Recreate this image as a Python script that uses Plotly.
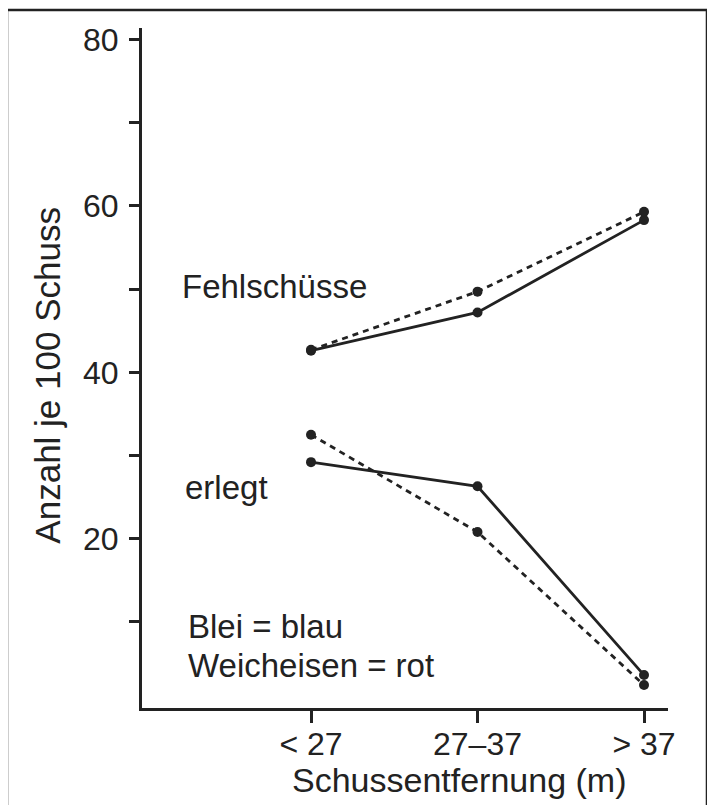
import plotly.graph_objects as go

categories = ["< 27", "27–37", "> 37"]
fehl_solid = [42.6, 47.2, 58.3]
fehl_dashed = [42.7, 49.7, 59.3]
erlegt_solid = [29.2, 26.3, 3.6]
erlegt_dashed = [32.5, 20.8, 2.4]
y_tickvals = [10, 20, 30, 40, 50, 60, 70, 80]
y_ticktext = ["", "20", "", "40", "", "60", "", "80"]

INK = "#222222"
FONT = "Liberation Sans, Arial, Helvetica, sans-serif"
xpos = list(range(len(categories)))

fig = go.Figure()

def add_line(vals, dash):
    fig.add_trace(go.Scatter(
        x=xpos, y=vals, mode="lines+markers",
        line=dict(color=INK, width=2.8, dash=dash),
        marker=dict(color=INK, size=10),
        showlegend=False, hoverinfo="skip"))

add_line(fehl_solid, "solid")
add_line(fehl_dashed, "6px,5px")
add_line(erlegt_solid, "solid")
add_line(erlegt_dashed, "6px,5px")

tfont = dict(family=FONT, size=32, color=INK)
afont = dict(family=FONT, size=33, color=INK)
xtfont = dict(family=FONT, size=34, color=INK)
ytfont = dict(family=FONT, size=35, color=INK)

fig.update_layout(
    width=715, height=805,
    margin=dict(l=134, r=55, t=20, b=105),
    paper_bgcolor="white", plot_bgcolor="white",
    xaxis=dict(range=[-1.015, 2.144], tickvals=xpos, ticktext=categories,
               showgrid=False, zeroline=False, showline=True,
               linecolor=INK, linewidth=3, ticks="outside", ticklen=12,
               tickwidth=3, tickcolor=INK, tickfont=tfont,
               ticklabelstandoff=-6),
    yaxis=dict(range=[-0.36, 81.4], tickvals=y_tickvals, ticktext=y_ticktext,
               showgrid=False, zeroline=False, showline=True,
               linecolor=INK, linewidth=3, ticks="outside", ticklen=10,
               tickwidth=3, tickcolor=INK, tickfont=tfont,
               ticklabelstandoff=4),
)

annots = [
    dict(x=-0.787, y=50.3, text="Fehlschüsse"),
    dict(x=-0.769, y=26.2, text="erlegt"),
    dict(x=-0.751, y=9.4, text="Blei = blau"),
    dict(x=-0.751, y=4.7, text="Weicheisen = rot"),
]
for a in annots:
    fig.add_annotation(**a, xref="x", yref="y", xanchor="left",
                       yanchor="middle", showarrow=False, font=afont)

fig.add_annotation(x=0.603, y=-0.106, xref="paper", yref="paper",
                   text="Schussentfernung (m)", showarrow=False,
                   xanchor="center", yanchor="middle", font=xtfont)
fig.add_annotation(x=-0.179, y=0.49, xref="paper", yref="paper",
                   text="Anzahl je 100 Schuss", showarrow=False, textangle=-90,
                   xanchor="center", yanchor="middle", font=ytfont)

# outer frame of the scanned figure
fig.add_shape(type="rect", xref="paper", yref="paper",
              x0=-0.2567, x1=1.0741, y0=-0.3, y1=1.0265,
              line=dict(color=INK, width=2.5), layer="below")

fig.write_html("out.html")
